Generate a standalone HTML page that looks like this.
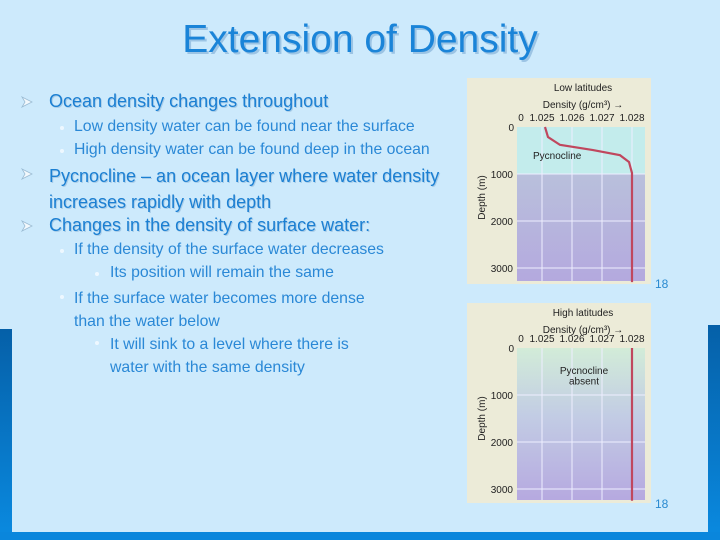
<!DOCTYPE html>
<html><head><meta charset="utf-8"><style>
body{margin:0;width:720px;height:540px;overflow:hidden;background:#cdeafc;font-family:"Liberation Sans",sans-serif;position:relative}
.t{position:absolute;white-space:nowrap;color:#1b7fd2}
.l1{font-size:18px;text-shadow:1px 1px 0 #a9cde8}
.l2{font-size:15.8px;color:#2a88d6}
.b1{position:absolute;width:12px;height:12px}
.b2{position:absolute;width:4px;height:4px;border-radius:2px;background:#eef8ff}
</style></head><body>
<div style="position:absolute;left:0;top:329px;width:12px;height:211px;background:linear-gradient(#0560a8,#0a8ae0)"></div>
<div style="position:absolute;left:708px;top:325px;width:12px;height:215px;background:linear-gradient(#0560a8,#0a8ae0)"></div>
<div style="position:absolute;left:0;top:532px;width:720px;height:8px;background:#0a86dc"></div>
<div class="t" style="left:0;width:720px;text-align:center;top:18px;font-size:39px;color:#1a84d8;text-shadow:2px 2px 0 #9cc4e4">Extension of Density</div>

<svg class="b1" style="left:21px;top:96px" viewBox="0 0 12 12"><path d="M1 1 L11 6 L1 11 L4 6 Z" fill="#f2f8fc" stroke="#9bbcd4" stroke-width="0.8"/></svg>
<div class="t l1" style="left:49px;top:91px">Ocean density changes throughout</div>
<div class="b2" style="left:60px;top:126px"></div>
<div class="t l2" style="left:74px;top:118px">Low density water can be found near the surface</div>
<div class="b2" style="left:60px;top:149px"></div>
<div class="t l2" style="left:74px;top:141px">High density water can be found deep in the ocean</div>
<svg class="b1" style="left:21px;top:168px" viewBox="0 0 12 12"><path d="M1 1 L11 6 L1 11 L4 6 Z" fill="#f2f8fc" stroke="#9bbcd4" stroke-width="0.8"/></svg>
<div class="t l1" style="left:49px;top:163px;line-height:26px">Pycnocline – an ocean layer where water density<br>increases rapidly with depth</div>
<svg class="b1" style="left:21px;top:220px" viewBox="0 0 12 12"><path d="M1 1 L11 6 L1 11 L4 6 Z" fill="#f2f8fc" stroke="#9bbcd4" stroke-width="0.8"/></svg>
<div class="t l1" style="left:49px;top:215px">Changes in the density of surface water:</div>
<div class="b2" style="left:60px;top:249px"></div>
<div class="t l2" style="left:74px;top:241px">If the density of the surface water decreases</div>
<div class="b2" style="left:95px;top:272px"></div>
<div class="t l2" style="left:110px;top:264px">Its position will remain the same</div>
<div class="b2" style="left:60px;top:295px"></div>
<div class="t l2" style="left:74px;top:287px;line-height:23px">If the surface water becomes more dense<br>than the water below</div>
<div class="b2" style="left:95px;top:341px"></div>
<div class="t l2" style="left:110px;top:333px;line-height:23px">It will sink to a level where there is<br>water with the same density</div>

<svg id="charts" width="720" height="540" style="position:absolute;left:0;top:0">
<defs>
<linearGradient id="g1" x1="0" y1="0" x2="0" y2="1"><stop offset="0" stop-color="#b9c0dc"/><stop offset="1" stop-color="#b4a9de"/></linearGradient>
<linearGradient id="g2" x1="0" y1="0" x2="0" y2="1"><stop offset="0" stop-color="#d2ecd8"/><stop offset="0.45" stop-color="#c2cce4"/><stop offset="1" stop-color="#b6a9e0"/></linearGradient>
</defs>
</svg>
<div class="t" style="left:655px;top:277px;font-size:12px;color:#2a8ad0">18</div>
<div class="t" style="left:655px;top:497px;font-size:12px;color:#2a8ad0">18</div>
<script>
const tickDensities=[1.025,1.026,1.027,1.028];
const depthTicks=[0,1000,2000,3000];
const lowDepths=[0,213,380,490,600,745,980,3300];
const lowDensity=[1.0251,1.0252,1.0256,1.0267,1.0276,1.0279,1.0280,1.0280];
const highDepths=[0,3250];
const highDensity=[1.0280,1.0280];
const NS='http://www.w3.org/2000/svg';
const svg=document.getElementById('charts');
function mk(tag,attrs,parent){const e=document.createElementNS(NS,tag);for(const k in attrs)e.setAttribute(k,attrs[k]);(parent||svg).appendChild(e);return e;}
function drawChart(name,imgTop,imgH,plotTop,title,depths,dens,low){
  const x=v=>542+(v-1.025)*30000;
  const y=d=>plotTop+d*0.047;
  const g=mk('g',{});
  
  
  mk('rect',{x:467,y:imgTop,width:184,height:imgH,fill:'#ecebd8'},g);
  const pb=Math.min(y(3300)+5,imgTop+imgH-3);
  if(low){
    mk('rect',{x:517,y:plotTop,width:128,height:y(1000)-plotTop,fill:'#c3ecec'},g);
    mk('rect',{x:517,y:y(1000),width:128,height:pb-y(1000),fill:'url(#g1)'},g);
  } else mk('rect',{x:517,y:plotTop,width:128,height:pb-plotTop,fill:'url(#g2)'},g);
  tickDensities.forEach(v=>{const l=mk('line',{x1:x(v),x2:x(v),y1:plotTop,y2:pb,stroke:'#eef',"stroke-width":1},g);
    const t=mk('text',{x:x(v),y:plotTop-6,"font-size":10,"text-anchor":"middle",fill:'#222'},g);t.textContent=v.toFixed(3);});
  const z=mk('text',{x:521,y:plotTop-6,"font-size":10,"text-anchor":"middle",fill:'#222'},g);z.textContent='0';
  depthTicks.forEach(d=>{if(d>0){const l=mk('line',{x1:517,x2:645,y1:y(d),y2:y(d),stroke:'#eef'},g);}
    const t=mk('text',{x:d==0?514:513,y:y(d)+4,"font-size":10,"text-anchor":"end",fill:'#222'},g);t.textContent=d;});
  const tt=mk('text',{x:583,y:imgTop+13,"font-size":10,"text-anchor":"middle",fill:'#222'},g);tt.textContent=title;
  const xt=mk('text',{x:583,y:imgTop+30,"font-size":10,"text-anchor":"middle",fill:'#222'},g);xt.textContent='Density (g/cm³) →';
  const yt=mk('text',{x:0,y:0,"font-size":10,"text-anchor":"middle",fill:'#222',transform:`translate(485,${y(1500)}) rotate(-90)`},g);yt.textContent='Depth (m)';
  const pts=depths.map((d,i)=>x(dens[i])+','+y(d)).join(' ');
  const p=mk('polyline',{points:pts,fill:'none',stroke:'#c0475e',"stroke-width":2.2},g);
  
  
  if(low){const a=mk('text',{x:533,y:y(680),"font-size":10,fill:'#222'},g);a.textContent='Pycnocline';}
  else{const a=mk('text',{x:584,y:y(550),"font-size":10,"text-anchor":"middle",fill:'#222'},g);a.textContent='Pycnocline';const b=mk('text',{x:584,y:y(780),"font-size":10,"text-anchor":"middle",fill:'#222'},g);b.textContent='absent';}
}
drawChart('low-latitudes-chart',78,206,127,'Low latitudes',lowDepths,lowDensity,true);
drawChart('high-latitudes-chart',303,200,348,'High latitudes',highDepths,highDensity,false);
</script>
</body></html>
